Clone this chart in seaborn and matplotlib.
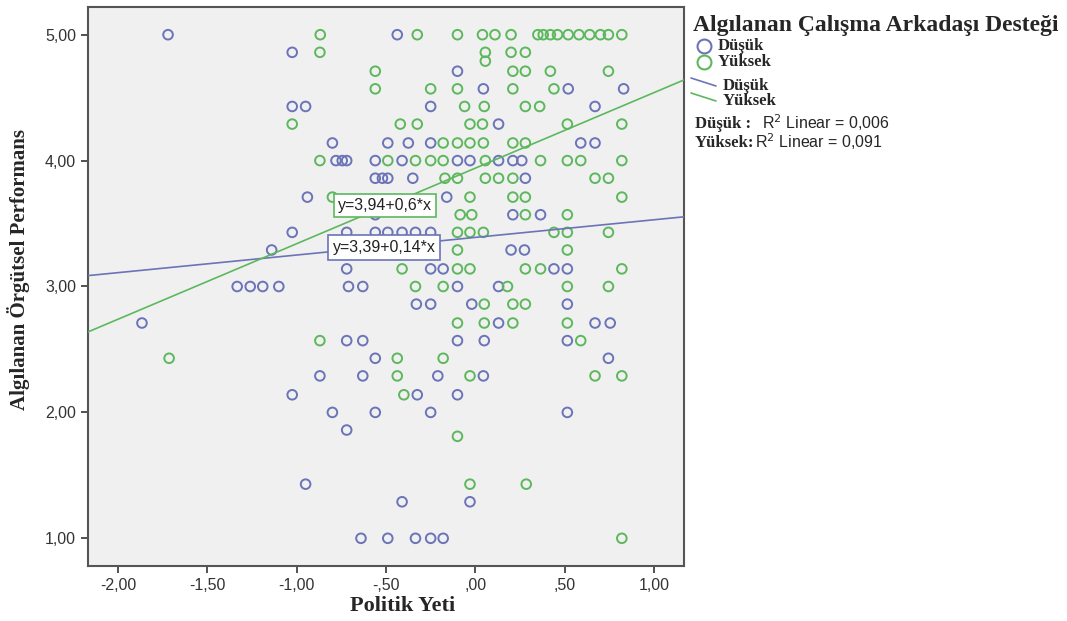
import matplotlib
matplotlib.use("Agg")
import matplotlib.pyplot as plt
from matplotlib.lines import Line2D
import seaborn as sns
import pandas as pd

# ---------------- data ----------------
dusuk_x = [-1.72, -0.437,
           -1.025,
           -0.10,
           0.045, 0.52, 0.83,
           -1.025, -0.95, -0.25, 0.67,
           0.13,
           -0.80, -0.49, -0.375, -0.25, 0.59, 0.67,
           -0.78, -0.745, -0.72, -0.56, -0.41, -0.10, -0.03, 0.13, 0.21, 0.26,
           -0.56, -0.52, -0.49, -0.35, 0.28,
           -0.94, -0.16,
           -0.56, 0.21, 0.365,
           -1.025, -0.72, -0.56, -0.49, -0.41, -0.335, -0.25,
           -1.14, 0.20, 0.275,
           -0.72, -0.25, -0.18, 0.44, 0.515,
           -1.333, -1.26, -1.19, -1.10, -0.71, -0.63, -0.10, 0.13,
           -0.33, -0.25, -0.02, 0.515,
           -1.866, 0.13, 0.67, 0.755,
           -0.72, -0.63, -0.10, 0.05, 0.515,
           -0.56, 0.745,
           -0.87, -0.63, -0.21, 0.045,
           -1.025, -0.325, -0.10,
           -0.80, -0.56, -0.25, 0.515,
           -0.72,
           -0.95,
           -0.41, -0.03,
           -0.64, -0.49, -0.335, -0.25, -0.18]
dusuk_y = [5.00, 5.00,
           4.86,
           4.71,
           4.57, 4.57, 4.57,
           4.43, 4.43, 4.43, 4.43,
           4.29,
           4.14, 4.14, 4.14, 4.14, 4.14, 4.14,
           4.00, 4.00, 4.00, 4.00, 4.00, 4.00, 4.00, 4.00, 4.00, 4.00,
           3.86, 3.86, 3.86, 3.86, 3.86,
           3.71, 3.71,
           3.57, 3.57, 3.57,
           3.43, 3.43, 3.43, 3.43, 3.43, 3.43, 3.43,
           3.29, 3.29, 3.29,
           3.14, 3.14, 3.14, 3.14, 3.14,
           3.00, 3.00, 3.00, 3.00, 3.00, 3.00, 3.00, 3.00,
           2.86, 2.86, 2.86, 2.86,
           2.71, 2.71, 2.71, 2.71,
           2.57, 2.57, 2.57, 2.57, 2.57,
           2.43, 2.43,
           2.29, 2.29, 2.29, 2.29,
           2.14, 2.14, 2.14,
           2.00, 2.00, 2.00, 2.00,
           1.86,
           1.43,
           1.29, 1.29,
           1.00, 1.00, 1.00, 1.00, 1.00]

yuksek_x = [-0.868, -0.325, -0.10, 0.04, 0.11, 0.20, 0.35, 0.38, 0.42, 0.46, 0.52, 0.58, 0.64, 0.70, 0.745, 0.82,
            -0.87, 0.056, 0.20, 0.28,
            0.056,
            -0.56, 0.21, 0.28, 0.42, 0.745,
            -0.56, -0.25, -0.10, 0.21, 0.44,
            -0.06, 0.05, 0.28, 0.36,
            -1.025, -0.42, -0.325, -0.03, 0.04, 0.515, 0.82,
            -0.18, -0.10, -0.03, 0.045, 0.21, 0.28,
            -0.87, -0.49, -0.335, -0.25, -0.18, 0.056, 0.365, 0.515, 0.59, 0.82,
            -0.17, -0.10, 0.056, 0.13, 0.21, 0.67, 0.745,
            -0.80, -0.03, 0.21, 0.28, 0.82,
            -0.085, -0.02, 0.28, 0.515,
            -0.10, -0.03, 0.045, 0.44, 0.515, 0.745,
            -0.10, 0.515,
            -0.41, -0.10, -0.03, 0.28, 0.365, 0.82,
            -0.335, -0.18, 0.18, 0.515, 0.745,
            0.05, 0.21, 0.28,
            -0.10, 0.05, 0.21, 0.515,
            -0.87, 0.59,
            -1.714, -0.437, -0.18,
            -0.437, -0.03, 0.67, 0.82,
            -0.40,
            -0.10,
            -0.03, 0.285,
            0.82]
yuksek_y = [5.00] * 16 + \
           [4.86] * 4 + \
           [4.79] + \
           [4.71] * 5 + \
           [4.57] * 5 + \
           [4.43] * 4 + \
           [4.29] * 7 + \
           [4.14] * 6 + \
           [4.00] * 10 + \
           [3.86] * 7 + \
           [3.71] * 5 + \
           [3.57] * 4 + \
           [3.43] * 6 + \
           [3.29] * 2 + \
           [3.14] * 6 + \
           [3.00] * 5 + \
           [2.86] * 3 + \
           [2.71] * 4 + \
           [2.57] * 2 + \
           [2.43] * 3 + \
           [2.29] * 4 + \
           [2.14] + \
           [1.81] + \
           [1.43] * 2 + \
           [1.00]

groups = ["Düşük", "Yüksek"]
intercepts = [3.39, 3.94]
slopes = [0.14, 0.6]
r2_values = ["0,006", "0,091"]
eq_labels = ["y=3,39+0,14*x", "y=3,94+0,6*x"]

x_ticks = [-2.0, -1.5, -1.0, -0.5, 0.0, 0.5, 1.0]
x_ticklabels = ["-2,00", "-1,50", "-1,00", "-,50", ",00", ",50", "1,00"]
y_ticks = [1.0, 2.0, 3.0, 4.0, 5.0]
y_ticklabels = ["1,00", "2,00", "3,00", "4,00", "5,00"]

# ---------------- style ----------------
sns.set_style("ticks")
plt.rcParams["font.family"] = ["Liberation Sans", "DejaVu Sans"]

colors = ["#6B74B8", "#5DB85D"]
serif = ["Liberation Serif", "DejaVu Serif"]

W, H = 1067, 621
fig = plt.figure(figsize=(W / 100, H / 100), dpi=100)
ax = fig.add_axes([88 / W, 1 - 566 / H, (684 - 88) / W, (566 - 7) / H])
ax.set_facecolor("#F0F0F0")

df = pd.concat([
    pd.DataFrame({"x": dusuk_x, "y": dusuk_y, "g": groups[0]}),
    pd.DataFrame({"x": yuksek_x, "y": yuksek_y, "g": groups[1]}),
])

for g, col in zip(groups, colors):
    sub = df[df["g"] == g]
    sns.scatterplot(data=sub, x="x", y="y", ax=ax, marker="o", s=48,
                    legend=False, zorder=3)
    pc = ax.collections[-1]
    pc.set_facecolor("none")
    pc.set_edgecolor(col)
    pc.set_linewidth(1.4)

ax.set_xlim(-2.168, 1.168)
ax.set_ylim(0.78, 5.22)

for b, m, col in zip(intercepts, slopes, colors):
    ax.axline((0, b), slope=m, color=col, lw=1.2, zorder=4)

# equation boxes
ax.text(-0.504, 3.645, eq_labels[1], ha="center", va="center", fontsize=11.5,
        color="#222222", zorder=6,
        bbox=dict(boxstyle="square,pad=0.25", fc="white", ec=colors[1], lw=1.2))
ax.text(-0.51, 3.31, eq_labels[0], ha="center", va="center", fontsize=11.5,
        color="#222222", zorder=6,
        bbox=dict(boxstyle="square,pad=0.3", fc="white", ec=colors[0], lw=1.2))

ax.set_xticks(x_ticks)
ax.set_xticklabels(x_ticklabels)
ax.set_yticks(y_ticks)
ax.set_yticklabels(y_ticklabels)
ax.tick_params(axis="both", direction="out", length=5, width=1.3,
               color="#444444", labelsize=11.5, labelcolor="#333333")
for sp in ax.spines.values():
    sp.set_visible(True)
    sp.set_color("#555555")
    sp.set_linewidth(1.5)

ax.set_xlabel("Politik Yeti", family=serif, fontweight="bold", fontsize=16)
ax.xaxis.set_label_coords((403 - 88) / 596, -0.053, transform=ax.transAxes)
ax.set_ylabel("Algılanan Örgütsel Performans", family=serif,
              fontweight="bold", fontsize=15)
ax.yaxis.set_label_coords(-0.097, (566 - 270) / 559, transform=ax.transAxes)

# ---------------- legend (figure coords) ----------------
def fx(px):
    return px / W

def fy(py):
    return 1 - py / H

fig.text(fx(693), fy(25), "Algılanan Çalışma Arkadaşı Desteği", family=serif,
         fontweight="bold", fontsize=17, va="center", ha="left")

for i, (g, col) in enumerate(zip(groups, colors)):
    yy = 46 + 16 * i
    fig.add_artist(Line2D([fx(704)], [fy(yy)], marker="o", ms=10, mfc="none",
                          mec=col, mew=1.5, transform=fig.transFigure))
    fig.text(fx(718), fy(yy), g, family=serif, fontweight="bold", fontsize=12,
             va="center", ha="left")

for i, (g, col) in enumerate(zip(groups, colors)):
    y0 = 78 + 15 * i
    fig.add_artist(Line2D([fx(691), fx(716)], [fy(y0), fy(y0 + 8)], color=col,
                          lw=1.2, transform=fig.transFigure))
    fig.text(fx(723), fy(y0 + 8), g, family=serif, fontweight="bold",
             fontsize=12, va="center", ha="left")

fig.text(fx(695), fy(124), "Düşük :", family=serif, fontweight="bold",
         fontsize=12, va="center", ha="left")
fig.text(fx(762), fy(123), "R$^2$ Linear = " + r2_values[0], fontsize=11.5,
         va="center", ha="left")
fig.text(fx(695), fy(143), "Yüksek:", family=serif, fontweight="bold",
         fontsize=12, va="center", ha="left")
fig.text(fx(755), fy(142), "R$^2$ Linear = " + r2_values[1], fontsize=11.5,
         va="center", ha="left")

fig.savefig("out.png", dpi=100, facecolor="white")
